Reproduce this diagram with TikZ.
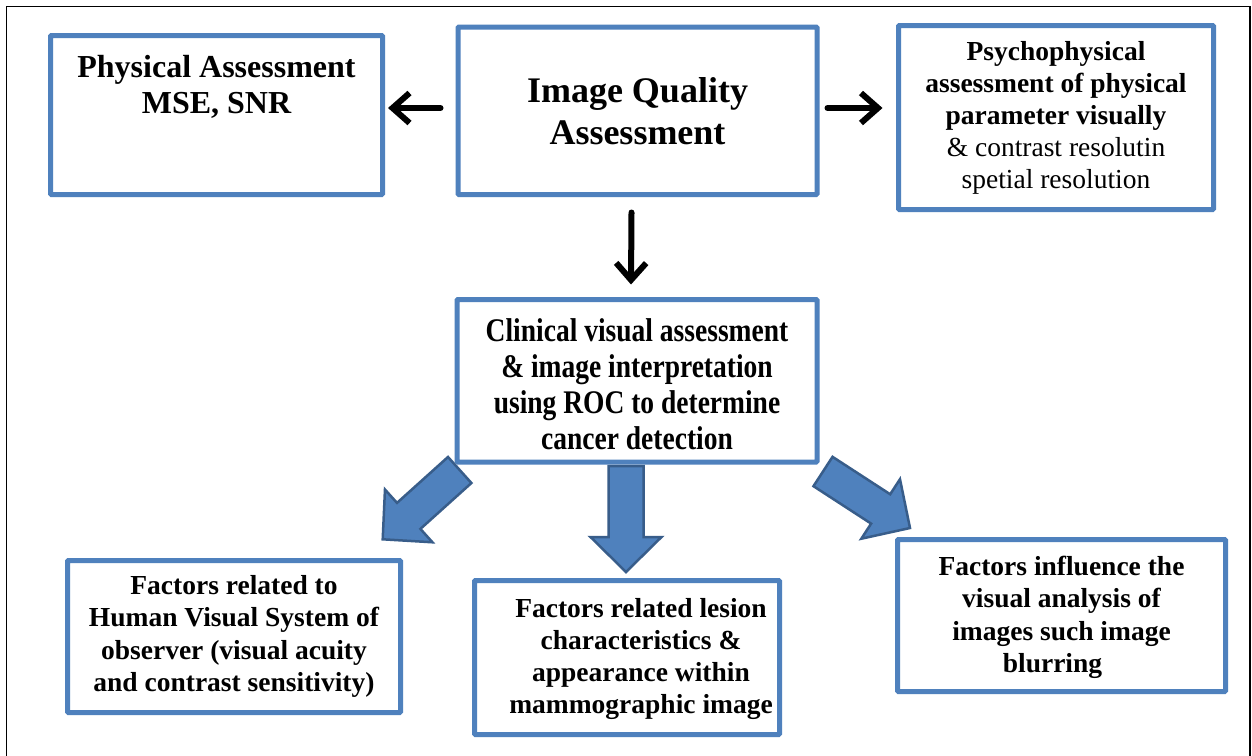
\documentclass[tikz,border=0pt]{standalone}
\usepackage{fontspec}
\setmainfont{Liberation Serif}
\usepackage{graphicx}
\usetikzlibrary{arrows.meta,calc}
\definecolor{boxblue}{RGB}{79,129,189}
\definecolor{arrowedge}{RGB}{56,93,138}
\newcommand\bigarrow[2]{%
  \coordinate (tmpb) at ($(#2)!35pt!(#1)$);
  \draw[blockarrow] ($(#1)!17.5pt!90:(#2)$) -- ($(tmpb)!17.5pt!90:(#2)$) -- ($(tmpb)!35.5pt!90:(#2)$) -- (#2) -- ($(tmpb)!35.5pt!-90:(#2)$) -- ($(tmpb)!17.5pt!-90:(#2)$) -- ($(#1)!17.5pt!-90:(#2)$) -- cycle;}
\begin{document}
\begin{tikzpicture}[x=1pt,y=-1pt,
  box/.style={draw=boxblue, line width=5pt, rectangle, inner sep=0pt, align=center, fill=white, rounded corners=1pt},
  txt/.style={inner sep=0pt, align=center},
  blackarrow/.style={line width=6pt, line cap=round, line join=round, -{Straight Barb[length=17pt,width=30pt]}},
  blockarrow/.style={fill=boxblue, draw=arrowedge, line width=2.5pt, line join=miter}]
\useasboundingbox (0,0) rectangle (1252,755);
\fill[white] (0,0) rectangle (1252,755);
% outer frame
\draw[black, line width=1.5pt] (6.5,760) -- (6.5,6.5) -- (1250,6.5) -- (1250,760);

% boxes
\node[box, minimum width=332pt, minimum height=159pt] (phys) at (216.5,115) {};
\node[txt, font=\fontsize{32}{36}\selectfont\bfseries] (physt) at (216.5,87) {Physical Assessment\\MSE, SNR};

\node[box, minimum width=359pt, minimum height=167.5pt, font=\fontsize{36}{42}\selectfont\bfseries] (img) at (637.5,110.75) {Image Quality\\Assessment};

\node[box, minimum width=315pt, minimum height=184pt, font=\fontsize{27.5}{32}\selectfont] (psy) at (1056,117.5)
  {\textbf{Psychophysical}\\\textbf{assessment of physical}\\\textbf{parameter visually}\hspace*{20pt}\\\& contrast resolutin\\spetial resolution};

\node[box, minimum width=360pt, minimum height=162.5pt] (clin) at (637,380.75) {};
\node[txt, font=\fontsize{27.5}{30}\selectfont\bfseries] (clint) at (637,388)
  {\scalebox{1}[1.2]{\begin{tabular}{@{}c@{}}Clinical visual assessment\\\& image interpretation\\using ROC to determine\\cancer detection\end{tabular}}};

\node[box, minimum width=333pt, minimum height=152pt, font=\fontsize{27.5}{32.5}\selectfont\bfseries] (hvs) at (234,636.5)
  {Factors related to\\Human Visual System of\\observer (visual acuity\\and contrast sensitivity)};

\node[box, minimum width=305pt, minimum height=154pt] (les) at (627,657.5) {};
\node[txt, font=\fontsize{27.5}{32}\selectfont\bfseries] (lest) at (641,658.5)
  {Factors related lesion\\characteristics \&\\appearance within\\mammographic image};

\node[box, minimum width=328pt, minimum height=152pt] (inf) at (1061.5,615.5) {};
\node[txt, font=\fontsize{27.5}{32.5}\selectfont\bfseries] (inft) at (1061.5,617.5)
  {Factors influence the\\visual analysis of\\images such image\\blurring\hspace*{18pt}};

% black arrows
\draw[blackarrow] ($(img.west |- 0,108)+(-15,0)$) -- ($(phys.east |- 0,108)+(3,0)$);
\draw[blackarrow] ($(img.east |- 0,108)+(8,0)$) -- ($(psy.west |- 0,108)+(-13.5,0)$);
\draw[blackarrow] ($(img.south)+(-6,15.5)$) -- ($(clin.north)+(-6,-12.5)$);

% block arrows
\coordinate (a1s) at (459.7,470);
\coordinate (a1t) at (382.7,539.3);
\coordinate (a2s) at (626,466);
\coordinate (a2t) at (626,572);
\coordinate (a3s) at (823,471.5);
\coordinate (a3t) at (910,528);
\bigarrow{a1s}{a1t}
\bigarrow{a2s}{a2t}
\bigarrow{a3s}{a3t}
\end{tikzpicture}
\end{document}
